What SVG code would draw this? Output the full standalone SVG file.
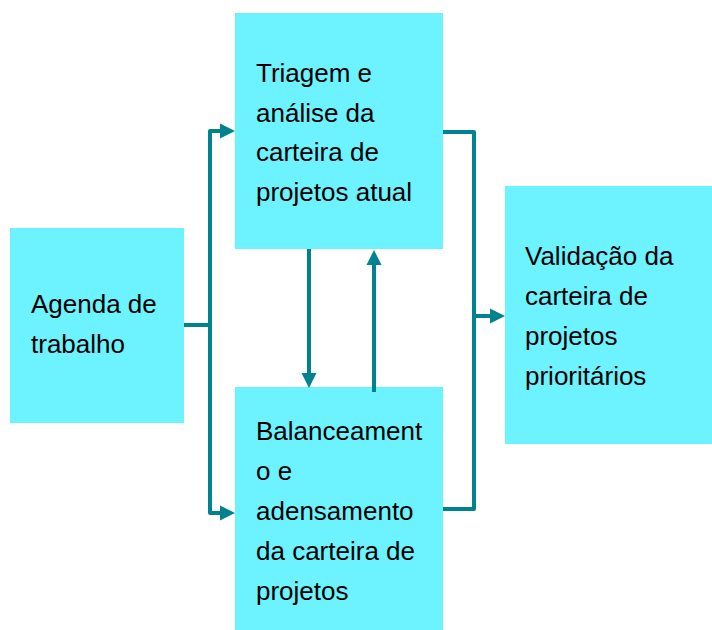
<svg xmlns="http://www.w3.org/2000/svg" width="712" height="630" viewBox="0 0 712 630">
<style>
.box{fill:#6CF3FF;stroke:none}
.t{font-family:"Liberation Sans",Arial,sans-serif;font-size:26px;fill:#000}
.c{fill:none;stroke:#00838F;stroke-width:4;stroke-linejoin:round}
</style>
<defs>
<marker id="ah" markerUnits="userSpaceOnUse" markerWidth="16" markerHeight="16" refX="0" refY="7.5" orient="auto" overflow="visible">
<path d="M0,0 L15,7.5 L0,15 z" fill="#00838F"/>
</marker>
</defs>
<rect width="712" height="630" fill="#fff"/>
<g id="agenda">
<rect class="box" x="10" y="228" width="174" height="195"/>
<text class="t" x="31" y="313">Agenda de</text>
<text class="t" x="31" y="353">trabalho</text>
</g>
<g id="triagem">
<rect class="box" x="235" y="13" width="208" height="236"/>
<text class="t" x="256" y="82">Triagem e</text>
<text class="t" x="256" y="122">análise da</text>
<text class="t" x="256" y="161">carteira de</text>
<text class="t" x="256" y="201">projetos atual</text>
</g>
<g id="balanceamento">
<rect class="box" x="235" y="387" width="208" height="243"/>
<text class="t" x="256" y="440">Balanceament</text>
<text class="t" x="256" y="480">o e</text>
<text class="t" x="256" y="520">adensamento</text>
<text class="t" x="256" y="560">da carteira de</text>
<text class="t" x="256" y="600">projetos</text>
</g>
<g id="validacao">
<rect class="box" x="505" y="186" width="207" height="258"/>
<text class="t" x="525" y="265">Validação da</text>
<text class="t" x="525" y="305">carteira de</text>
<text class="t" x="525" y="345">projetos</text>
<text class="t" x="525" y="385">prioritários</text>
</g>
<g id="connectors">
<path class="c" d="M184 325 H210"/>
<path class="c" d="M210 325 V131 H220" marker-end="url(#ah)"/>
<path class="c" d="M210 325 V513 H220" marker-end="url(#ah)"/>
<path class="c" d="M443 132 H474 V509 H443"/>
<path class="c" d="M474 316 H490" marker-end="url(#ah)"/>
<path class="c" d="M309 249 V373" marker-end="url(#ah)"/>
<path class="c" d="M374 392 V265" marker-end="url(#ah)"/>
</g>
</svg>
